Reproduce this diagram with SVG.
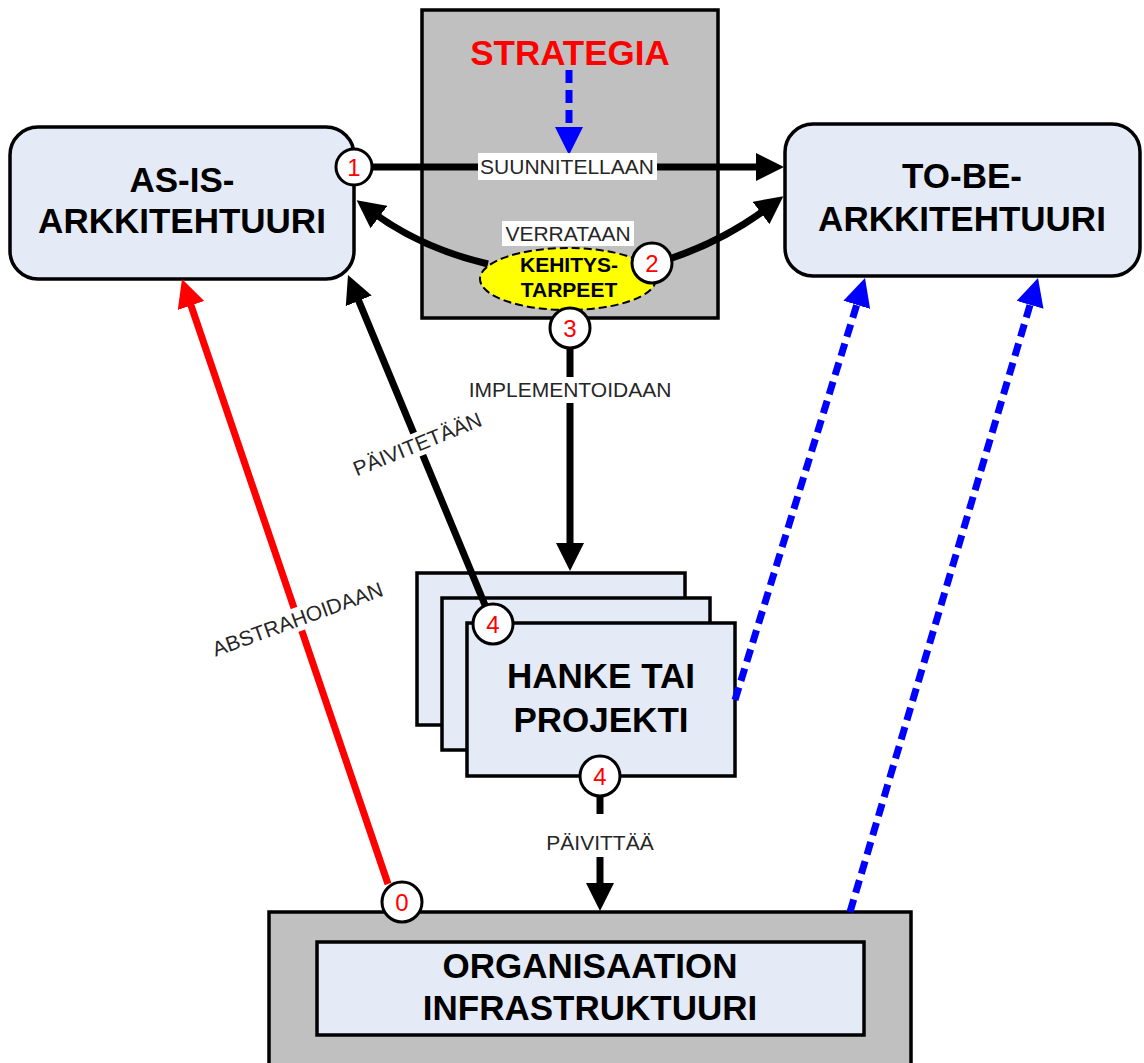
<svg xmlns="http://www.w3.org/2000/svg" width="1144" height="1063" viewBox="0 0 1144 1063">
  <style>
    .box { fill: #E4EBF6; stroke: #000; stroke-width: 3.5; }
    .gray { fill: #C0C0C0; stroke: #000; stroke-width: 3.5; }
    .title { font-family: "Liberation Sans", Arial, sans-serif; font-weight: bold; font-size: 35px; fill: #000; text-anchor: middle; }
    .lbl { font-family: "Liberation Sans", Arial, sans-serif; font-size: 21px; fill: #262626; text-anchor: middle; }
    .lblbg { fill: #fff; }
    .badge circle { fill: #fff; stroke: #000; stroke-width: 3; }
    .badge text { font-family: "Liberation Sans", Arial, sans-serif; font-size: 24px; fill: #FF0000; text-anchor: middle; }
    .blk { fill: none; stroke: #000; stroke-width: 7; }
    .red { fill: none; stroke: #FF0000; stroke-width: 7; }
    .blue { fill: none; stroke: #0000FF; stroke-width: 7; stroke-dasharray: 13 7; }
  </style>
  <defs>
    <marker id="headBlack" markerUnits="userSpaceOnUse" viewBox="0 0 28 28" refX="10" refY="14" markerWidth="28" markerHeight="28" orient="auto">
      <path d="M0,0 L28,14 L0,28 z" fill="#000"/>
    </marker>
    <marker id="headRed" markerUnits="userSpaceOnUse" viewBox="0 0 28 28" refX="10" refY="14" markerWidth="28" markerHeight="28" orient="auto">
      <path d="M0,0 L28,14 L0,28 z" fill="#FF0000"/>
    </marker>
    <marker id="headBlue" markerUnits="userSpaceOnUse" viewBox="0 0 28 28" refX="10" refY="14" markerWidth="28" markerHeight="28" orient="auto">
      <path d="M0,0 L28,14 L0,28 z" fill="#0000FF"/>
    </marker>
  </defs>

  <rect width="1144" height="1063" fill="#fff"/>

  <!-- strategy frame -->
  <g id="strategia">
    <rect class="gray" x="422" y="10" width="296" height="308"/>
    <text x="570" y="65" font-family="Liberation Sans, Arial, sans-serif" font-weight="bold" font-size="35" fill="#FF0000" text-anchor="middle">STRATEGIA</text>
  </g>

  <!-- current state architecture -->
  <g id="as-is">
    <rect class="box" x="10" y="127" width="344" height="152" rx="28"/>
    <text class="title" x="182" y="192">AS-IS-</text>
    <text class="title" x="182" y="233">ARKKITEHTUURI</text>
  </g>

  <!-- target state architecture -->
  <g id="to-be">
    <rect class="box" x="785" y="124" width="355" height="152" rx="28"/>
    <text class="title" x="962" y="188">TO-BE-</text>
    <text class="title" x="962" y="231">ARKKITEHTUURI</text>
  </g>

  <!-- stacked projects -->
  <g id="hanke">
    <rect class="box" x="417" y="573" width="268" height="152"/>
    <rect class="box" x="442" y="598" width="268" height="152"/>
    <rect class="box" x="467" y="623" width="268" height="153"/>
    <text class="title" x="601" y="688">HANKE TAI</text>
    <text class="title" x="601" y="732">PROJEKTI</text>
  </g>

  <!-- organisation infrastructure -->
  <g id="infra">
    <rect class="gray" x="269" y="912" width="642" height="160"/>
    <rect class="box" x="317" y="942" width="547" height="93"/>
    <text class="title" x="590" y="978">ORGANISAATION</text>
    <text class="title" x="590" y="1020">INFRASTRUKTUURI</text>
  </g>

  <!-- connectors -->
  <g id="connectors">
    <path class="blue" d="M569,70 L569,137" stroke-dasharray="10 7" marker-end="url(#headBlue)"/>
    <path class="blk" d="M371,167 L766,167" marker-end="url(#headBlack)"/>
    <path class="blk" d="M488,264 Q420,248 371,211" marker-end="url(#headBlack)"/>
    <path class="blk" d="M672,258 Q725,240 769,207" marker-end="url(#headBlack)"/>
    <path class="blk" d="M570,348 L570,553" marker-end="url(#headBlack)"/>
    <path class="blk" d="M485,605 L354.9,291.6" marker-end="url(#headBlack)"/>
    <path class="blk" d="M600,796 L600,893" marker-end="url(#headBlack)"/>
    <path class="red" d="M388,884 L187.8,296" marker-end="url(#headRed)"/>
    <path class="blue" d="M735,700 L859.7,295.2" marker-end="url(#headBlue)"/>
    <path class="blue" d="M850,912 L1032.9,295.3" marker-end="url(#headBlue)"/>

    <rect class="lblbg" x="478" y="153" width="179" height="27"/>
    <text class="lbl" x="567" y="174">SUUNNITELLAAN</text>
    <rect class="lblbg" x="502" y="221" width="132" height="25"/>
    <text class="lbl" x="568" y="241">VERRATAAN</text>
    <rect class="lblbg" x="463" y="377" width="214" height="26"/>
    <text class="lbl" x="570" y="397">IMPLEMENTOIDAAN</text>
    <rect class="lblbg" x="541" y="814" width="118" height="43"/>
    <text class="lbl" x="600" y="850">PÄIVITTÄÄ</text>
    <g transform="translate(420,451) rotate(-22)">
      <rect class="lblbg" x="-68" y="-19" width="136" height="24"/>
      <text class="lbl" x="0" y="0">PÄIVITETÄÄN</text>
    </g>
    <g transform="translate(300,626) rotate(-20)">
      <rect class="lblbg" x="-95" y="-19" width="190" height="24"/>
      <text class="lbl" x="0" y="0">ABSTRAHOIDAAN</text>
    </g>
  </g>

  <!-- development needs -->
  <g id="kehitystarpeet">
    <ellipse cx="568" cy="279" rx="88" ry="31" fill="#FFFF00" stroke="#000" stroke-width="2" stroke-dasharray="8 4"/>
    <text x="569" y="272" font-family="Liberation Sans, Arial, sans-serif" font-weight="bold" font-size="21" fill="#000" text-anchor="middle">KEHITYS-</text>
    <text x="569" y="297" font-family="Liberation Sans, Arial, sans-serif" font-weight="bold" font-size="21" fill="#000" text-anchor="middle">TARPEET</text>
  </g>

  <!-- step badges -->
  <g id="badge-1" class="badge"><circle cx="354" cy="167" r="18"/><text x="354" y="176">1</text></g>
  <g id="badge-2" class="badge"><circle cx="652" cy="263" r="20"/><text x="652" y="272">2</text></g>
  <g id="badge-3" class="badge"><circle cx="570" cy="328" r="20"/><text x="570" y="337">3</text></g>
  <g id="badge-4a" class="badge"><circle cx="493" cy="624" r="20"/><text x="493" y="633">4</text></g>
  <g id="badge-4b" class="badge"><circle cx="600" cy="776" r="20"/><text x="600" y="785">4</text></g>
  <g id="badge-0" class="badge"><circle cx="402" cy="902" r="20"/><text x="402" y="911">0</text></g>
</svg>
